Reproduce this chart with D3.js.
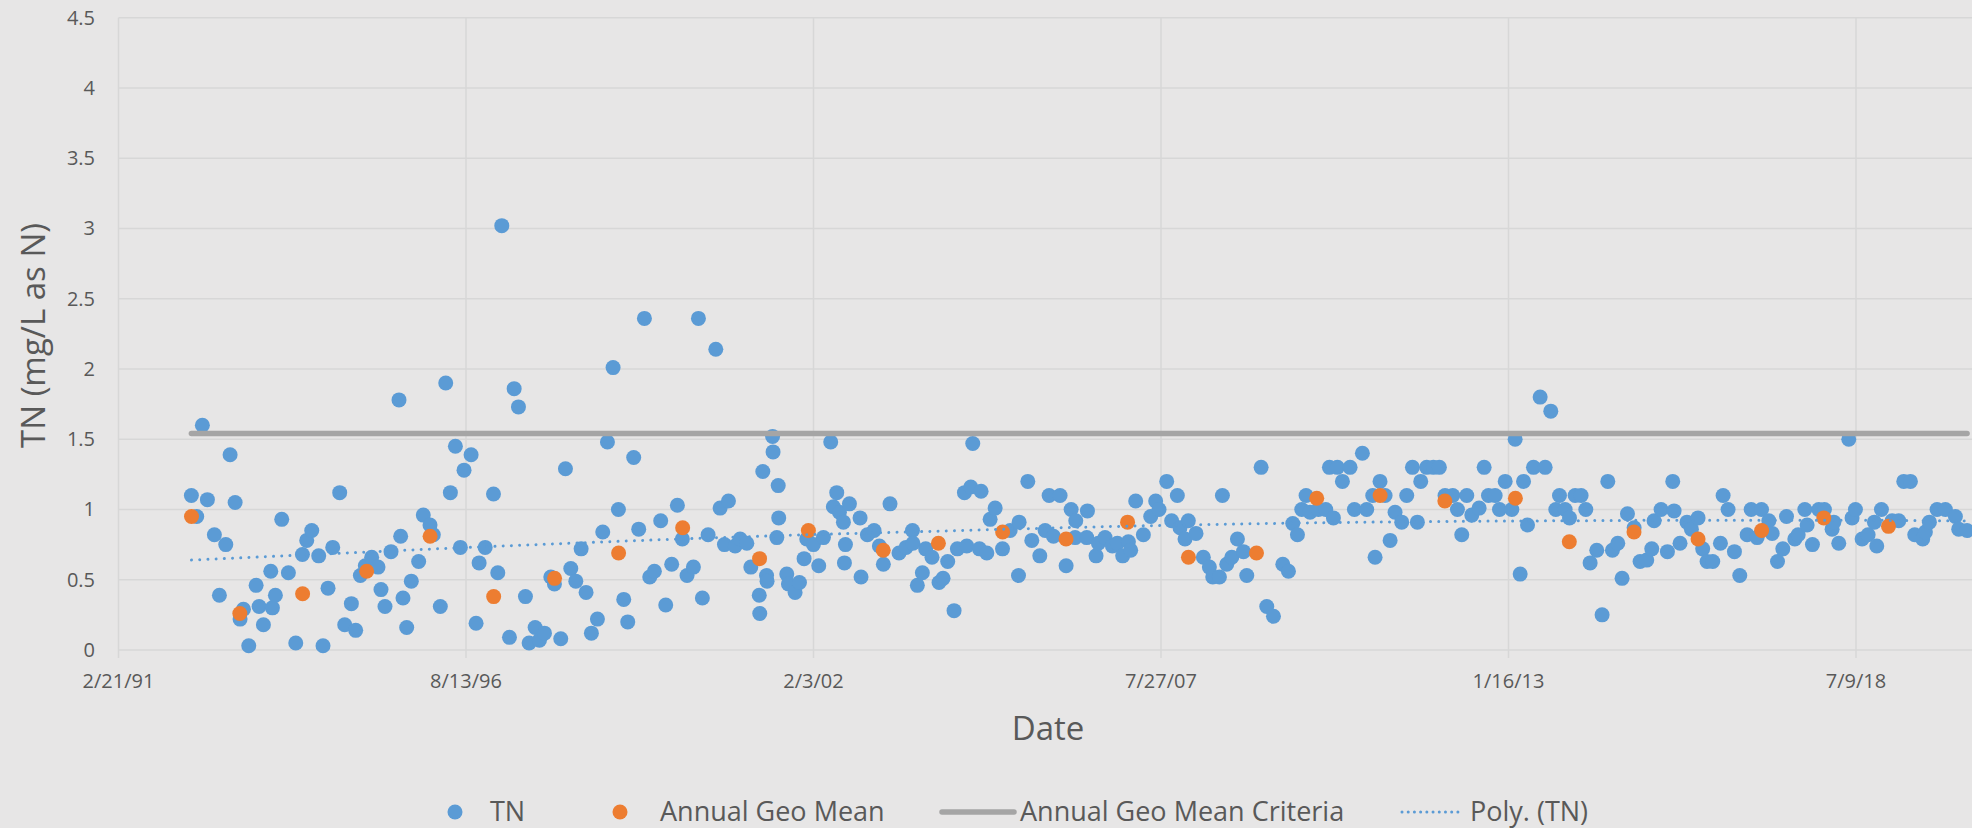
<!DOCTYPE html>
<meta charset="utf-8">
<script src="https://d3js.org/d3.v7.min.js"></script>
<style>
  body { margin: 0; background: #e7e6e6; }
  text { font-family: "Open Sans", sans-serif; fill: #595959; }
</style>
<div id="chart"></div>
<script>
// TN samples: dates as decimal years, values in mg/L
var tnDates = [
  1992.288, 1992.372, 1992.461, 1992.540, 1992.650, 1992.729, 1992.829, 1992.897, 1992.976,
  1993.054, 1993.107, 1993.191, 1993.307, 1993.354, 1993.422, 1993.538, 1993.564, 1993.611, 1993.711, 1993.816, 1993.932,
  1994.037, 1994.105, 1994.184, 1994.294, 1994.362, 1994.441, 1994.515, 1994.625, 1994.704, 1994.809, 1994.877, 1994.951,
  1995.029, 1995.129, 1995.229, 1995.276, 1995.339, 1995.434, 1995.560, 1995.586, 1995.623, 1995.681, 1995.754, 1995.870, 1995.943,
  1996.049, 1996.101, 1996.211, 1996.296, 1996.369, 1996.448, 1996.526, 1996.584, 1996.695, 1996.773, 1996.821, 1996.916,
  1997.047, 1997.115, 1997.178, 1997.299, 1997.373, 1997.441, 1997.551, 1997.609, 1997.704, 1997.772, 1997.851, 1997.951,
  1998.008, 1998.108, 1998.182, 1998.266, 1998.345, 1998.429, 1998.507, 1998.591, 1998.686, 1998.770, 1998.844, 1998.933,
  1999.017, 1999.101, 1999.164, 1999.258, 1999.337, 1999.427, 1999.511, 1999.584, 1999.684, 1999.763, 1999.857, 1999.947,
  2000.025, 2000.099, 2000.199, 2000.278, 2000.340, 2000.430, 2000.551, 2000.619, 2000.687, 2000.750, 2000.855, 2000.934,
  2001.039, 2001.102, 2001.235, 2001.243, 2001.291, 2001.350, 2001.358, 2001.445, 2001.453, 2001.512, 2001.534, 2001.542,
  2001.669, 2001.695, 2001.800, 2001.869, 2001.942, 2001.984, 2002.089, 2002.173, 2002.247, 2002.362, 2002.404, 2002.457,
  2002.499, 2002.562, 2002.578, 2002.594, 2002.657, 2002.825, 2002.840, 2002.940, 2003.045, 2003.129, 2003.192, 2003.297,
  2003.439, 2003.550, 2003.651, 2003.659, 2003.728, 2003.807, 2003.859, 2003.959, 2004.070, 2004.133, 2004.206, 2004.306,
  2004.358, 2004.469, 2004.506, 2004.569, 2004.600, 2004.705, 2004.731, 2004.821, 2004.873, 2004.952, 2005.068, 2005.188,
  2005.320, 2005.330, 2005.467, 2005.530, 2005.656, 2005.740, 2005.803, 2005.871, 2005.976, 2006.071, 2006.150, 2006.213,
  2006.223, 2006.396, 2006.407, 2006.543, 2006.580, 2006.685, 2006.801, 2006.879, 2006.963, 2007.053, 2007.089, 2007.168,
  2007.289, 2007.405, 2007.483, 2007.536, 2007.657, 2007.735, 2007.825, 2007.867, 2007.946, 2007.998, 2008.119, 2008.234,
  2008.329, 2008.382, 2008.487, 2008.534, 2008.602, 2008.681, 2008.770, 2008.865, 2008.917, 2009.143, 2009.232, 2009.338,
  2009.485, 2009.574, 2009.642, 2009.716, 2009.784, 2009.852, 2009.915, 2010.047, 2010.162, 2010.220, 2010.283, 2010.346,
  2010.425, 2010.546, 2010.614, 2010.740, 2010.808, 2010.903, 2010.940, 2011.018, 2011.098, 2011.177, 2011.255, 2011.360,
  2011.439, 2011.529, 2011.607, 2011.660, 2011.754, 2011.859, 2011.954, 2012.043, 2012.164, 2012.238, 2012.306, 2012.385,
  2012.464, 2012.579, 2012.658, 2012.726, 2012.831, 2012.899, 2012.989, 2013.094, 2013.146, 2013.225, 2013.278, 2013.341,
  2013.435, 2013.540, 2013.619, 2013.708, 2013.787, 2013.845, 2013.934, 2014.003, 2014.092, 2014.186, 2014.260, 2014.328,
  2014.433, 2014.517, 2014.607, 2014.680, 2014.764, 2014.832, 2014.917, 2015.022, 2015.116, 2015.221, 2015.300, 2015.337,
  2015.447, 2015.547, 2015.631, 2015.652, 2015.746, 2015.856, 2015.925, 2016.030, 2016.103, 2016.172, 2016.261, 2016.382,
  2016.424, 2016.502, 2016.602, 2016.686, 2016.802, 2016.865, 2016.959, 2017.028, 2017.143, 2017.196, 2017.280, 2017.364,
  2017.422, 2017.553, 2017.606, 2017.711, 2017.747, 2017.831, 2017.931, 2018.020, 2018.141, 2018.168, 2018.246, 2018.404,
  2018.456, 2018.509, 2018.614, 2018.709, 2018.808, 2018.845, 2018.919, 2019.087, 2019.192, 2019.271, 2019.376, 2019.444,
  2019.570, 2019.612, 2019.675, 2019.796, 2019.927, 2020.085, 2020.137, 2020.268
];
var tnValues = [
  1.10, 0.95, 1.60, 1.07, 0.82, 0.39, 0.75, 1.39, 1.05,
  0.22, 0.29, 0.03, 0.46, 0.31, 0.18, 0.56, 0.30, 0.39, 0.93, 0.55, 0.05,
  0.68, 0.78, 0.85, 0.67, 0.03, 0.44, 0.73, 1.12, 0.18, 0.33, 0.14, 0.53,
  0.60, 0.66, 0.59, 0.43, 0.31, 0.70, 1.78, 0.81, 0.37, 0.16, 0.49, 0.63, 0.96,
  0.89, 0.82, 0.31, 1.90, 1.12, 1.45, 0.73, 1.28, 1.39, 0.19, 0.62, 0.73,
  1.11, 0.55, 3.02, 0.09, 1.86, 1.73, 0.38, 0.05, 0.16, 0.07, 0.12, 0.52,
  0.47, 0.08, 1.29, 0.58, 0.49, 0.72, 0.41, 0.12, 0.22, 0.84, 1.48, 2.01,
  1.00, 0.36, 0.20, 1.37, 0.86, 2.36, 0.52, 0.56, 0.92, 0.32, 0.61, 1.03,
  0.79, 0.53, 0.59, 2.36, 0.37, 0.82, 2.14, 1.01, 0.75, 1.06, 0.74, 0.79,
  0.76, 0.59, 0.39, 0.26, 1.27, 0.53, 0.49, 1.52, 1.41, 0.80, 1.17, 0.94,
  0.54, 0.47, 0.41, 0.48, 0.65, 0.79, 0.75, 0.60, 0.80, 1.48, 1.02, 1.12,
  0.98, 0.91, 0.62, 0.75, 1.04, 0.94, 0.52, 0.82, 0.85, 0.74, 0.61, 1.04,
  0.69, 0.73, 0.85, 0.76, 0.46, 0.55, 0.72, 0.66, 0.48, 0.51, 0.63, 0.28,
  0.72, 1.12, 0.74, 1.16, 1.47, 0.72, 1.13, 0.69, 0.93, 1.01, 0.72, 0.85,
  0.53, 0.91, 1.20, 0.78, 0.67, 0.85, 1.10, 0.81, 1.10, 0.60, 1.00, 0.80,
  0.92, 0.80, 0.99, 0.67, 0.76, 0.80, 0.74, 0.76, 0.67, 0.77, 0.71, 1.06,
  0.82, 0.95, 1.06, 1.00, 1.20, 0.92, 1.10, 0.87, 0.79, 0.92, 0.83, 0.66,
  0.59, 0.52, 0.52, 1.10, 0.61, 0.66, 0.79, 0.70, 0.53, 1.30, 0.31, 0.24,
  0.61, 0.56, 0.90, 0.82, 1.00, 1.10, 0.98, 1.00, 1.00, 1.30, 0.94, 1.30,
  1.20, 1.30, 1.00, 1.40, 1.00, 1.10, 0.66, 1.20, 1.10, 0.78, 0.98, 0.91,
  1.10, 1.30, 0.91, 1.20, 1.30, 1.30, 1.30, 1.10, 1.10, 1.00, 0.82, 1.10,
  0.96, 1.01, 1.30, 1.10, 1.10, 1.00, 1.20, 1.00, 1.50, 0.54, 1.20, 0.89,
  1.30, 1.80, 1.30, 1.70, 1.00, 1.10, 1.00, 0.94, 1.10, 1.10, 1.00, 0.62,
  0.71, 0.25, 1.20, 0.71, 0.76, 0.51, 0.97, 0.87, 0.63, 0.64, 0.72, 0.92,
  1.00, 0.70, 1.20, 0.99, 0.76, 0.91, 0.86, 0.94, 0.72, 0.63, 0.63, 0.76,
  1.10, 1.00, 0.70, 0.53, 0.82, 1.00, 0.80, 1.00, 0.92, 0.83, 0.63, 0.72,
  0.95, 0.79, 0.82, 1.00, 0.89, 0.75, 1.00, 1.00, 0.86, 0.91, 0.76, 1.50,
  0.94, 1.00, 0.79, 0.82, 0.91, 0.74, 1.00, 0.92, 0.92, 1.20, 1.20, 0.82,
  0.79, 0.84, 0.91, 1.00, 1.00, 0.95, 0.86, 0.85
];

// Annual geometric means
var geoDates = [
  1992.29, 1993.05, 1994.04, 1995.05, 1996.05, 1997.05, 1998.01, 1999.02, 2000.03, 2001.24,
  2002.01, 2003.19, 2004.06, 2005.07, 2006.07, 2007.04, 2008.00, 2009.07, 2010.02, 2011.02,
  2012.04, 2013.15, 2014.00, 2015.02, 2016.03, 2017.03, 2018.01, 2019.03
];
var geoValues = [
  0.95, 0.26, 0.40, 0.56, 0.81, 0.38, 0.51, 0.69, 0.87, 0.65,
  0.85, 0.71, 0.76, 0.84, 0.79, 0.91, 0.66, 0.69, 1.08, 1.10,
  1.06, 1.08, 0.77, 0.84, 0.79, 0.85, 0.94, 0.88
];

// Criteria level
var criteriaValue = 1.54;

// Polynomial trend
var trendDates = [1992.29, 1994.0, 1996.0, 1998.0, 2000.0, 2002.0, 2004.0, 2006.0, 2008.0, 2010.0, 2012.0, 2014.0, 2016.0, 2018.0, 2020.27];
var trendValues = [0.64, 0.675, 0.717, 0.755, 0.79, 0.82, 0.845, 0.87, 0.89, 0.905, 0.915, 0.92, 0.924, 0.924, 0.918];

var yTicks = [0, 0.5, 1, 1.5, 2, 2.5, 3, 3.5, 4, 4.5];
var xTickLabels = ["2/21/91", "8/13/96", "2/3/02", "7/27/07", "1/16/13", "7/9/18"];

// decimal year -> Date
function yearToDate(y) {
  var yr = Math.floor(y);
  var a = new Date(yr, 0, 1), b = new Date(yr + 1, 0, 1);
  return new Date(+a + (y - yr) * (b - a));
}

var W = 1972, H = 828;
var plotLeft = 118.5, plotTop = 17.7, plotBottom = 650;
var dayMs = 86400000;

var parseTick = d3.timeParse("%m/%d/%y");
var tickDates = xTickLabels.map(parseTick);

// 2000 days between major ticks = 347.5px
var x = d3.scaleTime()
  .domain([tickDates[0], new Date(+tickDates[0] + 2000 * 5.4 * dayMs)])
  .range([plotLeft, plotLeft + 347.5 * 5.4]);

var y = d3.scaleLinear()
  .domain([0, 4.5])
  .range([plotBottom, plotTop]);

var svg = d3.select("#chart")
  .append("svg")
  .attr("width", W)
  .attr("height", H);

svg.append("rect")
  .attr("width", W).attr("height", H)
  .attr("fill", "#e7e6e6");

var gridColor = "#d7d7d7";

// horizontal gridlines
svg.append("g")
  .selectAll("line")
  .data(yTicks)
  .enter()
  .append("line")
  .attr("x1", plotLeft)
  .attr("x2", W)
  .attr("y1", function(d) { return y(d); })
  .attr("y2", function(d) { return y(d); })
  .attr("stroke", gridColor)
  .attr("stroke-width", 1.5);

// vertical gridlines + tick marks
svg.append("g")
  .selectAll("line")
  .data(tickDates)
  .enter()
  .append("line")
  .attr("x1", function(d) { return x(d); })
  .attr("x2", function(d) { return x(d); })
  .attr("y1", plotTop)
  .attr("y2", plotBottom + 8)
  .attr("stroke", gridColor)
  .attr("stroke-width", 1.5);

// y tick labels
svg.append("g")
  .selectAll("text")
  .data(yTicks)
  .enter()
  .append("text")
  .attr("x", 95)
  .attr("y", function(d) { return y(d); })
  .attr("dy", "0.35em")
  .attr("text-anchor", "end")
  .style("font-size", "20px")
  .text(function(d) { return d3.format("")(d); });

// x tick labels
svg.append("g")
  .selectAll("text")
  .data(xTickLabels)
  .enter()
  .append("text")
  .attr("x", function(d, i) { return x(tickDates[i]); })
  .attr("y", 688)
  .attr("text-anchor", "middle")
  .style("font-size", "20px")
  .text(function(d) { return d; });

// axis titles
svg.append("text")
  .attr("transform", "translate(45,335.5) rotate(-90)")
  .attr("text-anchor", "middle")
  .style("font-size", "33px")
  .text("TN (mg/L as N)");

svg.append("text")
  .attr("x", 1048)
  .attr("y", 740)
  .attr("text-anchor", "middle")
  .style("font-size", "33px")
  .text("Date");

var tn = tnDates.map(function(d, i) { return { date: yearToDate(d), value: tnValues[i] }; });
var geo = geoDates.map(function(d, i) { return { date: yearToDate(d), value: geoValues[i] }; });
var trend = trendDates.map(function(d, i) { return { date: yearToDate(d), value: trendValues[i] }; });

// TN points
svg.append("g")
  .selectAll("circle")
  .data(tn)
  .enter()
  .append("circle")
  .attr("cx", function(d) { return x(d.date); })
  .attr("cy", function(d) { return y(d.value); })
  .attr("r", 7.5)
  .attr("fill", "#5b9bd5");

// annual geo mean points
svg.append("g")
  .selectAll("circle")
  .data(geo)
  .enter()
  .append("circle")
  .attr("cx", function(d) { return x(d.date); })
  .attr("cy", function(d) { return y(d.value); })
  .attr("r", 7.5)
  .attr("fill", "#ed7d31");

// criteria line across the sampled period
svg.append("line")
  .attr("x1", x(tn[0].date))
  .attr("x2", x(tn[tn.length - 1].date))
  .attr("y1", y(criteriaValue))
  .attr("y2", y(criteriaValue))
  .attr("stroke", "#a5a5a5")
  .attr("stroke-width", 5.5)
  .attr("stroke-linecap", "round");

// polynomial trend, dotted
svg.append("path")
  .datum(trend)
  .attr("fill", "none")
  .attr("stroke", "#5b9bd5")
  .attr("stroke-width", 3)
  .attr("stroke-linecap", "round")
  .attr("stroke-dasharray", "0.01 8.2")
  .attr("d", d3.line()
    .curve(d3.curveMonotoneX)
    .x(function(d) { return x(d.date); })
    .y(function(d) { return y(d.value); }));

// legend
var ly = 812, fs = "27px";
var lg = svg.append("g");
lg.append("circle").attr("cx", 455).attr("cy", ly).attr("r", 7.5).attr("fill", "#5b9bd5");
lg.append("text").attr("x", 490).attr("y", ly).attr("dy", "0.35em").style("font-size", fs).text("TN");
lg.append("circle").attr("cx", 620).attr("cy", ly).attr("r", 7.5).attr("fill", "#ed7d31");
lg.append("text").attr("x", 660).attr("y", ly).attr("dy", "0.35em").style("font-size", fs).text("Annual Geo Mean");
lg.append("line").attr("x1", 942).attr("x2", 1014).attr("y1", ly).attr("y2", ly)
  .attr("stroke", "#a5a5a5").attr("stroke-width", 5.5).attr("stroke-linecap", "round");
lg.append("text").attr("x", 1020).attr("y", ly).attr("dy", "0.35em").style("font-size", fs).text("Annual Geo Mean Criteria");
lg.append("line").attr("x1", 1402).attr("x2", 1464).attr("y1", ly).attr("y2", ly)
  .attr("stroke", "#5b9bd5").attr("stroke-width", 3).attr("stroke-linecap", "round")
  .attr("stroke-dasharray", "0.01 6.2");
lg.append("text").attr("x", 1470).attr("y", ly).attr("dy", "0.35em").style("font-size", fs).text("Poly. (TN)");
</script>
